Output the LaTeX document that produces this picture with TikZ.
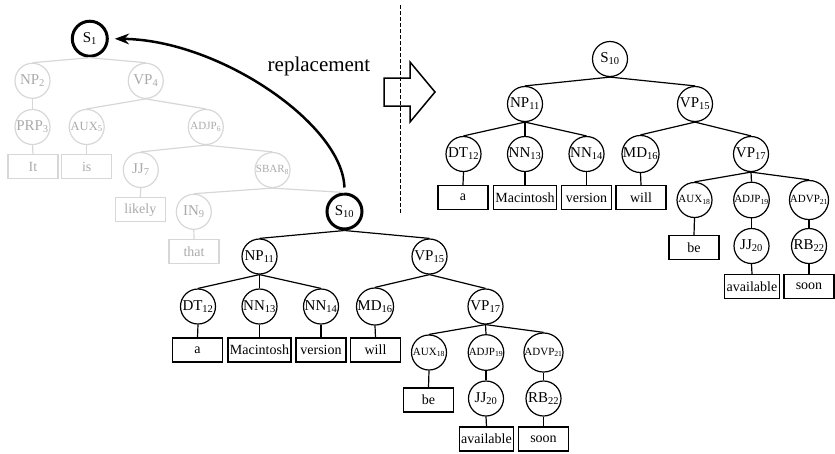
\documentclass[tikz,border=0pt]{standalone}
\usepackage{fontspec}
\setmainfont{Liberation Serif}
\usepackage{tikz}
\usetikzlibrary{arrows.meta}
\definecolor{fadeline}{RGB}{215,215,215}
\definecolor{fadetext}{RGB}{170,170,170}

% one parse tree, nodes prefixed by #1, root style #2
\newcommand{\sentencetree}[2]{%
    \node[cat, #2] (#1s10) at (610,59) {S\textsubscript{10}};
    \node[cat] (#1np11) at (525,104) {NP\textsubscript{11}};
    \node[cat] (#1vp15) at (695,104) {VP\textsubscript{15}};
    \node[cat] (#1dt12) at (463.5,154) {DT\textsubscript{12}};
    \node[cat] (#1nn13) at (525,154) {NN\textsubscript{13}};
    \node[cat] (#1nn14) at (586.5,154) {NN\textsubscript{14}};
    \node[cat] (#1md16) at (640.5,154) {MD\textsubscript{16}};
    \node[cat] (#1vp17) at (751,154) {VP\textsubscript{17}};
    \node[word] (#1a) at (463,197.5) {a};
    \node[word] (#1mac) at (525,197.5) {Macintosh};
    \node[word] (#1version) at (586.5,197.5) {version};
    \node[word] (#1will) at (641,197.5) {will};
    \node[smallcat] (#1aux18) at (694.5,200) {AUX\textsubscript{18}};
    \node[smallcat] (#1adjp19) at (751.5,200) {ADJP\textsubscript{19}};
    \node[smallcat] (#1advp21) at (809,200) {ADVP\textsubscript{21}};
    \node[word] (#1be) at (694,247.5) {be};
    \node[cat] (#1jj20) at (751.5,246) {JJ\textsubscript{20}};
    \node[cat] (#1rb22) at (809,246) {RB\textsubscript{22}};
    \node[word] (#1available) at (752,286.5) {available};
    \node[word] (#1soon) at (809,286.5) {soon};
    \foreach \p/\c in {s10/np11, s10/vp15, np11/dt12, np11/nn13, np11/nn14,
        vp15/md16, vp15/vp17, dt12/a, nn13/mac, nn14/version, md16/will,
        vp17/aux18, vp17/adjp19, vp17/advp21, aux18/be, adjp19/jj20,
        advp21/rb22, jj20/available, rb22/soon}
        \draw[branch] (#1\p.south) -- (#1\c.north);
}

\begin{document}
\begin{tikzpicture}[x=1pt, y=-1pt, >=Stealth,
    cat/.style={circle, draw, line width=1.2pt, minimum size=35pt, inner sep=0pt,
        font=\fontsize{15}{17}\selectfont},
    smallcat/.style={cat, font=\fontsize{11}{13}\selectfont},
    word/.style={rectangle, draw, line width=1.2pt, minimum width=50pt,
        minimum height=24pt, inner sep=2pt, font=\fontsize{14}{16}\selectfont},
    branch/.style={line width=1.2pt},
    faded/.style={draw=fadeline, text=fadetext},
    rootring/.style={line width=3pt}]
    \useasboundingbox (0,0) rectangle (835,453);

    % original sentence, greyed out
    \node[cat, rootring] (s1) at (89.8,38.7) {S\textsubscript{1}};
    \node[cat, faded] (np2) at (32.5,80.8) {NP\textsubscript{2}};
    \node[cat, faded] (vp4) at (145.8,80.8) {VP\textsubscript{4}};
    \node[cat, faded] (prp3) at (32.5,127) {PRP\textsubscript{3}};
    \node[cat, faded, font=\fontsize{12.5}{14}\selectfont] (aux5) at (86.7,127) {AUX\textsubscript{5}};
    \node[smallcat, faded] (adjp6) at (205.8,127) {ADJP\textsubscript{6}};
    \node[word, faded] (it) at (33,166.7) {It};
    \node[word, faded] (is) at (86.7,166.7) {is};
    \node[cat, faded] (jj7) at (140.8,170) {JJ\textsubscript{7}};
    \node[smallcat, faded] (sbar8) at (272.5,170) {SBAR\textsubscript{8}};
    \node[word, faded] (likely) at (140.3,209.7) {likely};
    \node[cat, faded] (in9) at (193.8,211.8) {IN\textsubscript{9}};
    \node[word, faded] (that) at (194,251.7) {that};

    % replacing subtree and result
    \begin{scope}[shift={(-265.5,152.5)}]
        \sentencetree{m}{rootring}
    \end{scope}
    \sentencetree{r}{}

    \foreach \p/\c in {s1/np2, s1/vp4, np2/prp3, prp3/it, vp4/aux5, vp4/adjp6,
        aux5/is, adjp6/jj7, adjp6/sbar8, jj7/likely, sbar8/in9, in9/that, sbar8/ms10}
        \draw[branch, fadeline] (\p.south) -- (\c.north);

    \draw[->, line width=2.5pt, shorten <=5pt, shorten >=6pt] (ms10.north)
        .. controls (343,125) and (220,40) .. (s1.east);
    \node[font=\fontsize{21}{24}\selectfont] (replace) at (319,66) {replacement};

    \draw[dashed, dash pattern=on 4pt off 2pt, line width=1pt] (400.5,5) -- (400.5,213);
    \draw[line width=1.5pt] (384,78) -- (410,78) -- (410,62) -- (435,92) -- (410,122)
        -- (410,106) -- (384,106) -- cycle;
\end{tikzpicture}
\end{document}
